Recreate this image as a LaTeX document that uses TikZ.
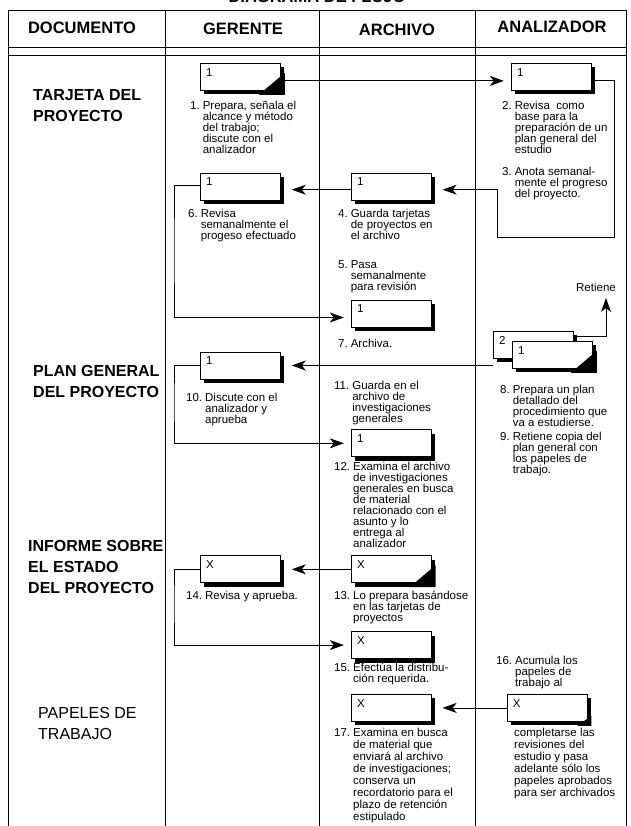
\documentclass[tikz,border=0pt]{standalone}
\usepackage{fontspec}
\setmainfont{Liberation Sans}
\usetikzlibrary{positioning, arrows.meta, shadows}

\newlength{\pasowd}
\newcommand{\bodyfont}{\fontsize{11.5}{11}\selectfont}
\newcommand{\widefont}{\fontsize{11.5}{12}\selectfont}
\newcommand{\headfont}{\fontsize{16.5}{20}\selectfont\bfseries}
\newcommand{\lineas}[1]{\parbox[t]{170pt}{\lineskiplimit=-20pt\raggedright#1}}
\newcommand{\paso}[2]{\parbox[t]{170pt}{\lineskiplimit=-20pt\raggedright
  \settowidth{\pasowd}{#1\hspace{3pt}}\hangindent=\pasowd\hangafter=1
  \noindent#1\hspace{3pt}#2}}
\newcommand{\cardfold}[2][22]{\fill (#2.south east) ++(4,4) -- ++(0,-#1) -- ++(-#1-4,#1) -- cycle;}

\tikzset{
  rule/.style={line width=0.9pt},
  headtext/.style={font=\headfont, inner sep=0pt},
  doclabel/.style={anchor=base west, inner sep=0pt, font=\fontsize{16}{21}\selectfont\bfseries},
  steptext/.style={anchor=base west, inner sep=0pt, font=\bodyfont},
  cardlabel/.style={anchor=north west, inner sep=0pt, xshift=6pt, yshift=-5pt, font=\bodyfont},
  card/.style={
    draw,
    fill=white,
    line width=0.8pt,
    minimum width=80pt,
    minimum height=27pt,
    inner sep=0pt,
    drop shadow={shadow xshift=4pt, shadow yshift=-4pt, fill=black, opacity=1},
    label={[cardlabel]north west:#1}},
  flow/.style={line width=0.8pt, shorten >=7pt, -{Stealth[length=14pt, width=10pt, inset=4pt]}},
}

\begin{document}
\begin{tikzpicture}[x=1pt, y=-1pt]
  \useasboundingbox (0,0) rectangle (630,826);

  % table
  \draw[rule] (8,826) -- (8,10) -- (626,10) -- (626,826);
  \draw[rule] (8,47) -- (626,47);
  \draw[rule] (8,55) -- (626,55);
  \foreach \xx in {165,319,475}
    \draw[rule] (\xx,10) -- (\xx,826);

  % headers
  \node[headtext, anchor=base] (title) at (317,3) {DIAGRAMA DE FLUJO};
  \node[headtext] (hdoc) at (82,28) {DOCUMENTO};
  \node[headtext] (hger) at (243,29) {GERENTE};
  \node[headtext] (harc) at (397,30) {ARCHIVO};
  \node[headtext] (hana) at (552,27) {ANALIZADOR};

  % documents
  \node[doclabel] (d1) at (33,101) {\lineas{TARJETA DEL\newline PROYECTO}};
  \node[doclabel] (d2) at (33,376) {\lineas{PLAN GENERAL\newline DEL PROYECTO}};
  \node[doclabel] (d3) at (28,551) {\lineas{INFORME SOBRE\newline EL ESTADO\newline DEL PROYECTO}};
  \node[doclabel, font=\fontsize{16}{21}\selectfont] (d4) at (38,718) {\lineas{PAPELES DE\newline TRABAJO}};

  % cards
  \node[card=1, anchor=north west] (c1) at (200,63) {};
  \node[card=1, right=230pt of c1] (c2) {};
  \node[card=1, below=82pt of c1] (c6) {};
  \node[card=1, right=70pt of c6] (c4) {};
  \node[card=1, below=99pt of c4] (c7) {};
  \node[card=1, below=151pt of c6] (c10) {};
  \node[card=1, below=102pt of c7] (c12) {};
  \node[card=X, below=176pt of c10] (c14) {};
  \node[card=X, right=70pt of c14] (c13) {};
  \node[card=X, below=48pt of c13] (c15) {};
  \node[card=X, below=35pt of c15] (c17) {};
  \node[card=X, right=75pt of c17] (c16) {};
  \node[card=2, anchor=north west] (c8b) at (493,331) {};
  \node[card=1, anchor=north west] (c8) at (512,341) {};

  \cardfold{c1}
  \cardfold{c8}
  \cardfold{c13}
  \cardfold[10]{c16}

  % texts
  \node[steptext] (t1) at (190,110) {\paso{1.}{Prepara, señala el\newline alcance y método\newline del trabajo;\newline discute con el\newline analizador}};
  \node[steptext] (t2) at (502,110) {\paso{2.}{Revisa\ \ como\newline base para la\newline preparación de un\newline plan general del\newline estudio}};
  \node[steptext] (t3) at (502,176) {\paso{3.}{Anota semanal-\newline mente el progreso\newline del proyecto.}};
  \node[steptext] (t6) at (188,218) {\paso{6.}{Revisa\newline semanalmente el\newline progeso efectuado}};
  \node[steptext] (t4) at (338,218) {\paso{4.}{Guarda tarjetas\newline de proyectos en\newline el archivo}};
  \node[steptext] (t5) at (338,268) {\paso{5.}{Pasa\newline semanalmente\newline para revisión}};
  \node[steptext] (t7) at (338,347) {\paso{7.}{Archiva.}};
  \node[steptext, anchor=base] (ret) at (596,291) {Retiene};
  \node[steptext] (t8) at (500,393) {\paso{8.}{Prepara un plan\newline detallado del\newline procedimiento que\newline va a estudierse.}};
  \node[steptext] (t9) at (500,440) {\paso{9.}{Retiene copia del\newline plan general con\newline los papeles de\newline trabajo.}};
  \node[steptext] (t10) at (186,401) {\paso{10.}{Discute con el\newline analizador y\newline aprueba}};
  \node[steptext] (t11) at (334,389) {\paso{11.}{Guarda en el\newline archivo de\newline investigaciones\newline generales}};
  \node[steptext] (t12) at (334,470) {\paso{12.}{Examina el archivo\newline de investigaciones\newline generales en busca\newline de material\newline relacionado con el\newline asunto y lo\newline entrega al\newline analizador}};
  \node[steptext] (t14) at (186,599) {\paso{14.}{Revisa y aprueba.}};
  \node[steptext] (t13) at (334,599) {\paso{13.}{Lo prepara basándose\newline en las tarjetas de\newline proyectos}};
  \node[steptext] (t15) at (334,671) {\paso{15.}{Efectúa la distribu-\newline ción requerida.}};
  \node[steptext] (t16) at (496,664) {\paso{16.}{Acumula los\newline papeles de\newline trabajo al}};
  \node[steptext, font=\widefont] (t16b) at (514,736) {\lineas{completarse las\newline revisiones del\newline estudio y pasa\newline adelante sólo los\newline papeles aprobados\newline para ser archivados}};
  \node[steptext, font=\widefont] (t17) at (334,736) {\paso{17.}{Examina en busca\newline de material que\newline enviará al archivo\newline de investigaciones;\newline conserva un\newline recordatorio para el\newline plazo de retención\newline estipulado}};

  % flow
  \coordinate (k1) at (614,237);
  \coordinate (k2) at (497,237);
  \coordinate (k3) at (174,250);
  \coordinate (k4) at (174,400);
  \coordinate (k5) at (174,600);
  \coordinate (k6) at (606,298);

  \draw[flow] ([yshift=-4pt]c1.east) -- ([yshift=-4pt]c2.west);
  \draw[flow, shorten >=11pt] ([yshift=-4pt]c2.east) -| (k1) -- (k2) |- ([yshift=-3pt]c4.east);
  \draw[flow, shorten >=11pt] ([yshift=-3pt]c4.west) -- ([yshift=-3pt]c6.east);
  \draw[flow] ([yshift=1pt]c6.west) -| (k3) |- ([yshift=-4pt]c7.west);
  \draw[flow, shorten >=0pt] ([yshift=-5pt]c8b.north east) -| (k6);
  \draw[flow, shorten >=11pt] (c8b.west |- c10.east) -- (c10.east);
  \draw[flow] (c10.west) -| (k4) |- (c12.west);
  \draw[flow, shorten >=11pt] (c13) -- (c14);
  \draw[flow] (c14.west) -| (k5) |- (c15.west);
  \draw[flow, shorten >=11pt] (c16) -- (c17);
\end{tikzpicture}
\end{document}
